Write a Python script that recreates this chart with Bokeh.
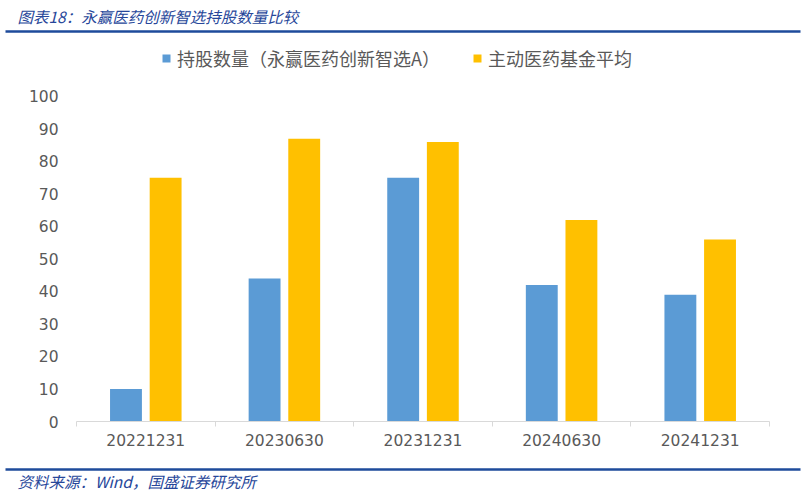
from bokeh.plotting import figure
from bokeh.models import Range1d, FixedTicker, Legend, LegendItem, ColumnDataSource
from bokeh.layouts import column
from bokeh.embed import file_html
from bokeh.resources import INLINE
from bokeh.core.properties import value

# ---- data ----
title_text = "图表18：永赢医药创新智选持股数量比较"
source_text = "资料来源：Wind，国盛证券研究所"
categories = ["20221231", "20230630", "20231231", "20240630", "20241231"]
series_names = ["持股数量（永赢医药创新智选A）", "主动医药基金平均"]
holdings_fund = [10, 44, 75, 42, 39]
holdings_avg = [75, 87, 86, 62, 56]
y_ticks = [0, 10, 20, 30, 40, 50, 60, 70, 80, 90, 100]

# ---- styles ----
W = 805
BLUE = "#5B9BD5"
GOLD = "#FFC000"
NAVY = "#1E4B9B"
NAVY_TXT = "#27479A"
GREY = "#595959"
CJK = "Noto Sans CJK SC"
NUM = "DejaVu Sans"
bar_w = 0.23
offs = 0.143

# ---- top (title) ----
TH = 36
top = figure(width=W, height=TH, x_range=Range1d(0, W), y_range=Range1d(0, TH),
             output_backend="svg", toolbar_location=None, min_border=0,
             x_axis_location=None, y_axis_location=None, frame_align=False)
top.grid.visible = False
top.outline_line_color = None
top.text(x=[17], y=[TH - 15], text=[title_text], text_font=value(CJK), text_font_style="italic",
         text_font_size="15.5px", text_color=NAVY_TXT, text_baseline="middle", text_align="left")
top.segment(x0=[5], y0=[TH - 31], x1=[800], y1=[TH - 31], line_width=2.5, line_color=NAVY)

# ---- main chart ----
centers = [i + 0.5 for i in range(len(categories))]
src = ColumnDataSource(dict(
    x1=[c - offs for c in centers], x2=[c + offs for c in centers],
    fund=holdings_fund, avg=holdings_avg))

p = figure(width=W, height=426, x_range=Range1d(0, len(categories)), y_range=Range1d(0, 117.23),
           output_backend="svg", toolbar_location=None, frame_align=False,
           min_border_left=76, min_border_right=36, min_border_top=4, min_border_bottom=41)
p.grid.visible = False
p.outline_line_color = None

r1 = p.vbar(x="x1", top="fund", width=bar_w, source=src, fill_color=BLUE, line_color=None)
r2 = p.vbar(x="x2", top="avg", width=bar_w, source=src, fill_color=GOLD, line_color=None)

xa = p.xaxis[0]
xa.ticker = FixedTicker(ticks=centers, minor_ticks=list(range(len(categories) + 1)))
xa.major_label_overrides = {c: lab for c, lab in zip(centers, categories)}
xa.major_tick_line_color = None
xa.major_tick_out = 0
xa.major_tick_in = 0
xa.minor_tick_line_color = "#D9D9D9"
xa.minor_tick_out = 5
xa.minor_tick_in = 0
xa.axis_line_color = "#D9D9D9"
xa.major_label_standoff = 7
xa.major_label_text_font = NUM
xa.major_label_text_font_size = "15.5px"
xa.major_label_text_color = GREY

ya = p.yaxis[0]
ya.ticker = FixedTicker(ticks=y_ticks)
ya.axis_line_color = None
ya.major_tick_line_color = None
ya.minor_tick_line_color = None
ya.major_tick_out = 0
ya.major_tick_in = 0
ya.major_label_standoff = 18
ya.major_label_text_font = NUM
ya.major_label_text_font_size = "15.5px"
ya.major_label_text_color = GREY

legend = Legend(items=[LegendItem(label=series_names[0], renderers=[r1]),
                       LegendItem(label=series_names[1], renderers=[r2])],
                orientation="horizontal", location=(85, 350), padding=0, margin=0,
                spacing=32, glyph_width=10, glyph_height=10, label_standoff=6,
                border_line_color=None, background_fill_alpha=0,
                label_text_font=CJK, label_text_font_size="18px", label_text_color=GREY)
p.add_layout(legend)

# ---- bottom (source) ----
BH = 42
bot = figure(width=W, height=BH, x_range=Range1d(0, W), y_range=Range1d(0, BH),
             output_backend="svg", toolbar_location=None, min_border=0,
             x_axis_location=None, y_axis_location=None, frame_align=False)
bot.grid.visible = False
bot.outline_line_color = None
bot.segment(x0=[5], y0=[BH - 7], x1=[800], y1=[BH - 7], line_width=2.5, line_color=NAVY)
bot.text(x=[17], y=[BH - 18], text=[source_text], text_font=value(CJK), text_font_style="italic",
         text_font_size="15.5px", text_color=NAVY_TXT, text_baseline="middle", text_align="left")

layout = column(top, p, bot, spacing=0)
open("out.html", "w").write(file_html(layout, INLINE))
